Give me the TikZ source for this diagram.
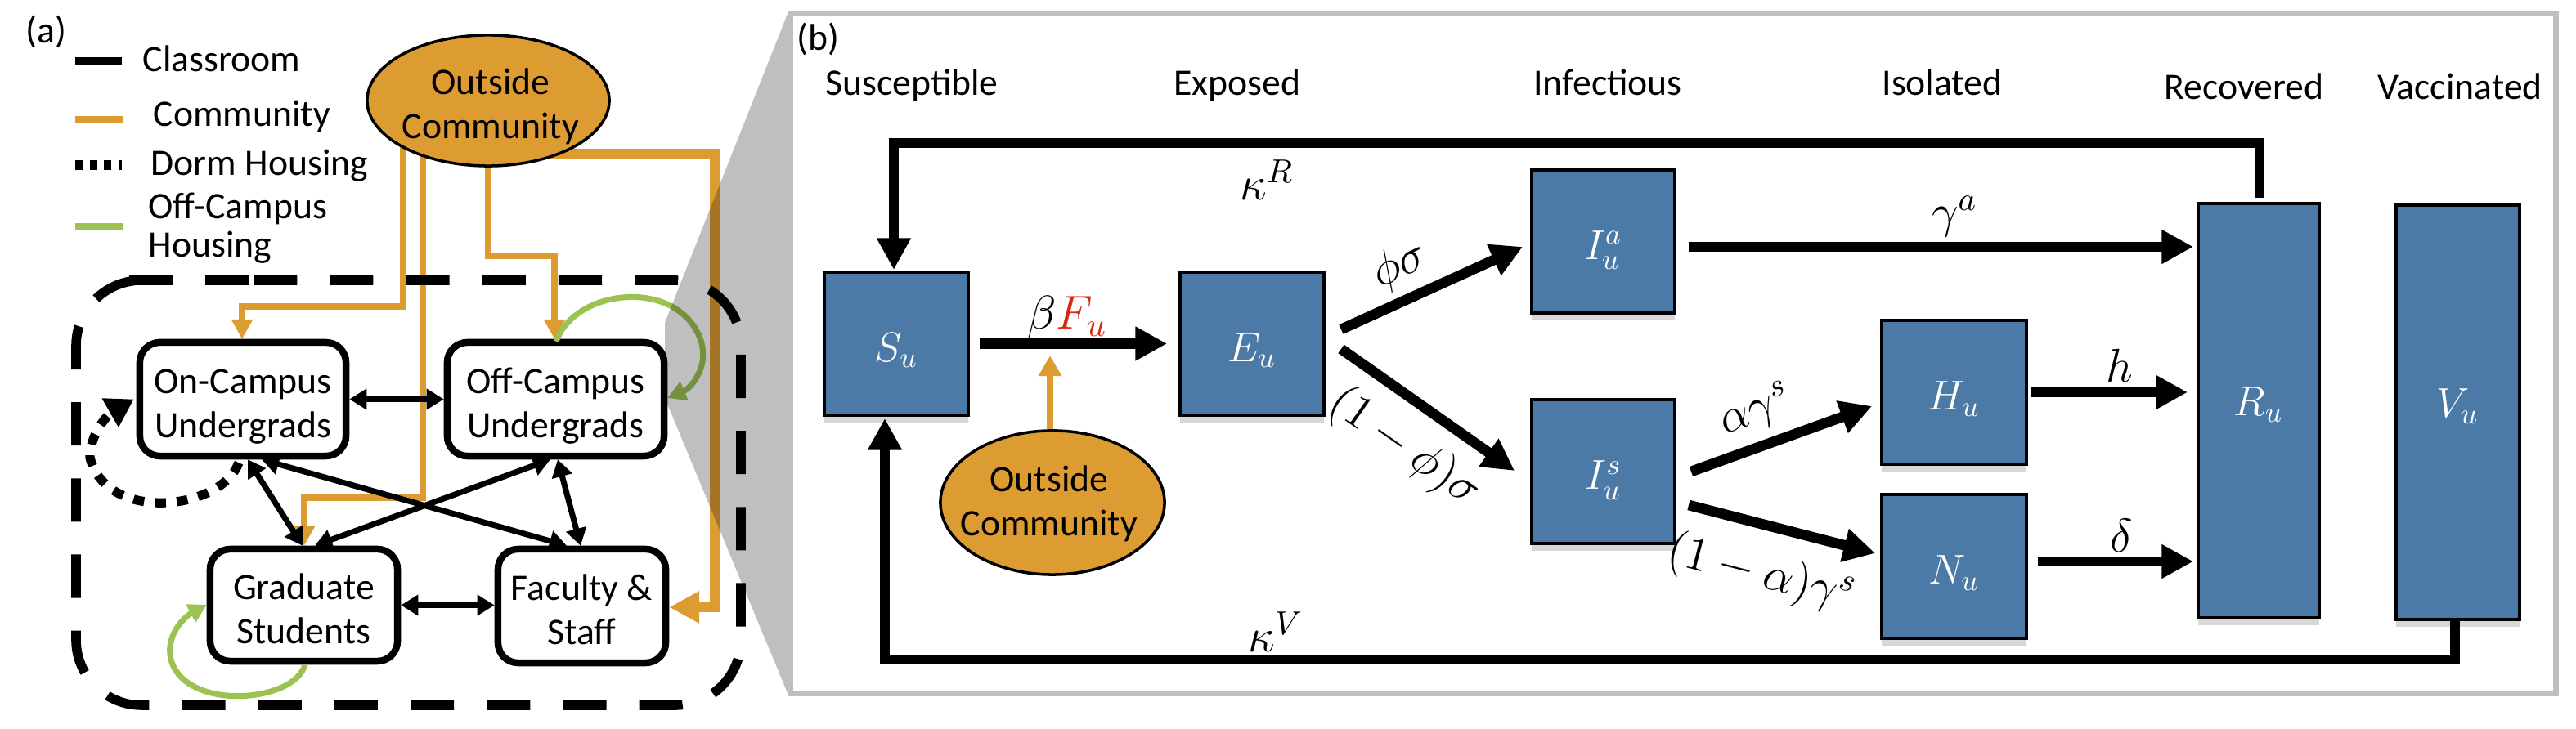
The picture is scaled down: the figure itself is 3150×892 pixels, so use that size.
\RequirePackage{fix-cm}
\documentclass[tikz,border=0pt]{standalone}
\usepackage{fontspec}
\setmainfont{Carlito}
\usetikzlibrary{arrows.meta,calc,shadows,shapes.geometric,backgrounds}
\definecolor{orng}{RGB}{221,156,50}
\definecolor{grn}{RGB}{155,194,82}
\definecolor{blu}{RGB}{76,122,167}
\definecolor{fred}{RGB}{214,40,16}
\definecolor{framegray}{RGB}{191,191,191}
\newcommand{\twoline}[2]{\rule{0pt}{1.14em}#1\\#2\rule[-0.25em]{0pt}{0pt}}
\begin{document}
\begin{tikzpicture}[x=0.01cm,y=-0.01cm,
  txt/.style={font=\fontsize{13pt}{15.4pt}\selectfont,inner sep=0pt},
  abox/.style={draw,line width=2.4pt,rounded corners=7pt,fill=white,align=center,inner sep=0pt,font=\fontsize{13pt}{15.4pt}\selectfont},
  bbox/.style={draw,line width=1.1pt,fill=blu,inner sep=0pt,text=white,font=\fontsize{14.5pt}{16pt}\selectfont,text height=12.4pt,text depth=0pt,drop shadow={opacity=0.3,shadow xshift=0pt,shadow yshift=-2.5pt}},
  oell/.style={ellipse,draw,line width=1pt,fill=orng,inner sep=0pt},
  mlab/.style={font=\fontsize{16.5pt}{18pt}\selectfont,inner sep=0pt},
  dbl/.style={line width=2pt,>={Triangle[length=6pt,width=7pt]},<->},
  aor/.style={draw=orng,line width=2.3pt,->,>={Triangle[length=6.8pt,width=7.1pt]}},
  aorthick/.style={draw=orng,line width=3.4pt,->,>={Triangle[length=10.5pt,width=10.5pt]}},
  agr/.style={draw=grn,line width=2pt,->,>={Triangle[length=6.3pt,width=6.8pt]}},
  dotl/.style={line width=3.2pt,dash pattern=on 3.8pt off 3.8pt,->,>={Triangle[length=9.5pt,width=11pt]}},
  big/.style={line width=3.6pt,->,>={Triangle[length=11pt,width=11.2pt]}},
  borng/.style={draw=orng,line width=2pt,->,>={Triangle[length=7.1pt,width=7.7pt]}},
]
\useasboundingbox (0,0) rectangle (3150,892);
\begin{pgfonlayer}{background}
\fill[white] (0,0) rectangle (3150,892);
\end{pgfonlayer}

% ---------------- panel (a) ----------------
\node[txt,anchor=base west] (la) at (31,53) {(a)};
\draw[line width=2.6pt] (92,75) -- (149,75);
\draw[orng,line width=2pt] (92,146) -- (150,146);
\draw[line width=3.3pt,dash pattern=on 2.6pt off 2.4pt] (92,202) -- (149,202);
\draw[grn,line width=2pt] (92,277) -- (150,277);
\node[txt,anchor=base west] (lcl) at (174,88) {Classroom};
\node[txt,anchor=base west] (lco) at (187,155) {Community};
\node[txt,anchor=base west] (ldo) at (184,215) {Dorm Housing};
\node[txt,anchor=base west] (lof1) at (181,268) {Off-Campus};
\node[txt,anchor=base west] (lof2) at (181,315) {Housing};

% dashed campus boundary
\draw[line width=3.3pt,dash pattern=on 15.1pt off 11.4pt,rounded corners=22.8pt]
  (230,343) -- (906,343) -- (906,863) -- (93,863) -- (93,343) -- cycle;

% groups
\node[abox,minimum width=2.52cm,minimum height=1.39cm] (on) at (297,488.5) {\twoline{On-Campus}{Undergrads}};
\node[abox,minimum width=2.65cm,minimum height=1.39cm] (off) at (679.5,488.5) {\twoline{Off-Campus}{Undergrads}};
\node[abox,minimum width=2.29cm,minimum height=1.37cm] (gr) at (371.5,740.5) {\twoline{Graduate}{Students}};
\node[abox,minimum width=2.05cm,minimum height=1.39cm] (fa) at (711.5,741.5) {\twoline{Faculty \&}{Staff}};

% outside community (a)
\node[oell,minimum width=2.96cm,minimum height=1.60cm] (oc) at (597,123) {};
\node[txt,align=center] (octxt) at (600,122) {\twoline{Outside}{Community}};

\begin{pgfonlayer}{background}
\draw[aor] ($(oc.center)+(-104,27)$) |- ($(on.north)+(-1,-40)$) -- ($(on.north)+(-1,0)$);
\draw[aor] ($(oc.center)+(-80,30)$) |- ($(gr.north)+(0.5,-59)$) -- ($(gr.north)+(0.5,0)$);
\draw[aor] (oc.center) |- ($(off.north)+(-1.5,-102)$) -- ($(off.north)+(-1.5,0)$);
\draw[aorthick] ($(oc.center)+(60,65)$) -| ($(fa.east)+(56,1.5)$) -- ($(fa.east)+(0,1.5)$);
\end{pgfonlayer}

% classroom contacts
\draw[dbl] (on.east) -- (off.west);
\draw[dbl] (gr.east) -- (gr.east -| fa.west);
\draw[dbl] ($(on.south)+(6,0)$) -- ($(gr.north)+(-1.5,0)$);
\draw[dbl] ($(on.south)+(23,0)$) -- ($(fa.north)+(-18.5,0)$);
\draw[dbl] ($(off.south)+(-6.5,0)$) -- ($(gr.north)+(13.5,0)$);
\draw[dbl] ($(off.south)+(2.5,0)$) -- ($(fa.north)+(-1.5,0)$);

% housing loops
\draw[agr] ($(off.north)+(0.5,3)$) .. controls (705,350) and (835,340) .. (858,420)
  .. controls (866,450) and (845,475) .. ($(off.east)+(0,-1.5)$);
\draw[agr] ($(gr.south)+(1.5,0)$) .. controls (360,860) and (230,870) .. (210,810)
  .. controls (200,780) and (225,755) .. ($(gr.west)+(0,-0.5)$);
\draw[dotl] ($(on.south)+(-5,4)$) .. controls (270,625) and (130,640) .. (110,560)
  .. controls (110,528) and (135,505) .. ($(on.west)+(-3,0)$);

% zoom funnel
\fill[black,opacity=0.25] (813,395) -- (963,17) -- (963,848) -- (813,487) -- cycle;

% ---------------- panel (b) ----------------
\draw[framegray,line width=2pt] (966.5,16.5) rectangle (3125.5,848.5);
\node[txt,anchor=base west] (lb) at (974,62) {(b)};
\node[txt,anchor=base] (hS) at (1115,117) {Susceptible};
\node[txt,anchor=base] (hE) at (1513,117) {Exposed};
\node[txt,anchor=base] (hI) at (1966,117) {Infectious};
\node[txt,anchor=base] (hQ) at (2375,117) {Isolated};
\node[txt,anchor=base] (hR) at (2744,122) {Recovered};
\node[txt,anchor=base] (hV) at (3008,122) {Vaccinated};

\node[bbox,minimum width=1.76cm,minimum height=1.75cm] (S) at (1096,420.5) {$S_u$};
\node[bbox,minimum width=1.76cm,minimum height=1.75cm] (E) at (1531,420.5) {$E_u$};
\node[bbox,minimum width=1.75cm,minimum height=1.75cm] (Ia) at (1960.5,295.5) {$I_u^a$};
\node[bbox,minimum width=1.75cm,minimum height=1.76cm] (Is) at (1960.5,577) {$I_u^s$};
\node[bbox,minimum width=1.77cm,minimum height=1.76cm] (H) at (2389.5,480) {$H_u$};
\node[bbox,minimum width=1.77cm,minimum height=1.76cm] (N) at (2389.5,693) {$N_u$};
\node[bbox,minimum width=1.48cm,minimum height=5.07cm,text height=3.5pt] (R) at (2762,502.5) {$R_u$};
\node[bbox,minimum width=1.51cm,minimum height=5.07cm,text height=3.5pt] (V) at (3005.5,504.5) {$V_u$};

\node[oell,minimum width=2.74cm,minimum height=1.76cm] (ocb) at (1287,615) {};
\node[txt,align=center] (ocbtxt) at (1283,608) {\twoline{Outside}{Community}};

\draw[big] ($(S.east)+(12,0)$) -- ($(E.west)+(-14,0)$);
\draw[borng] ($(ocb.north)+(-3,0)$) -- ($(ocb.north)+(-3,-90)$);
\draw[big] ($(E.east)+(19,-17.5)$) -- ($(Ia.west)+(-9,6.5)$);
\draw[big] ($(E.east)+(19,6.5)$) -- ($(Is.west)+(-19,-1)$);
\draw[big] ($(Ia.east)+(15,6.5)$) -- ($(R.west |- Ia.east)+(-4,6.5)$);
\draw[big] ($(Is.east)+(18,0)$) -- ($(H.west)+(-10,17)$);
\draw[big] ($(Is.east)+(15,41)$) -- ($(N.west)+(-6,-16)$);
\draw[big] ($(H.east)+(3,0)$) -- ($(R.west |- H.east)+(-11,0)$);
\draw[big] ($(N.east)+(12,-6)$) -- ($(R.west |- N.east)+(-4,-6)$);
\draw[big] ($(R.north)+(1,-5)$) |- ($(S.north)+(-3,-156)$) -- ($(S.north)+(-3,-1)$);
\draw[big] ($(V.south)+(-3.5,-2)$) |- ($(S.south)+(-14,297)$) -- ($(S.south)+(-14,2)$);

\node[mlab] (lbeta) at (1305,388) {$\beta{\color{fred}F_u}$};
\node[mlab] (lkR) at (1549,220) {$\kappa^R$};
\node[mlab,rotate=25] (lphs) at (1712,325) {$\phi\sigma$};
\node[mlab,rotate=-35] (lphm) at (1717,548) {$(1-\phi)\sigma$};
\node[mlab] (lga) at (2390,265) {$\gamma^a$};
\node[mlab,rotate=20] (lags) at (2147,503) {$\alpha\gamma^s$};
\node[mlab,rotate=-14.5] (lagm) at (2153,703) {$(1-\alpha)\gamma^s$};
\node[mlab] (lh) at (2592,447) {$h$};
\node[mlab] (ld) at (2594,655) {$\delta$};
\node[mlab] (lkV) at (1560,773) {$\kappa^V$};
\end{tikzpicture}
\end{document}
